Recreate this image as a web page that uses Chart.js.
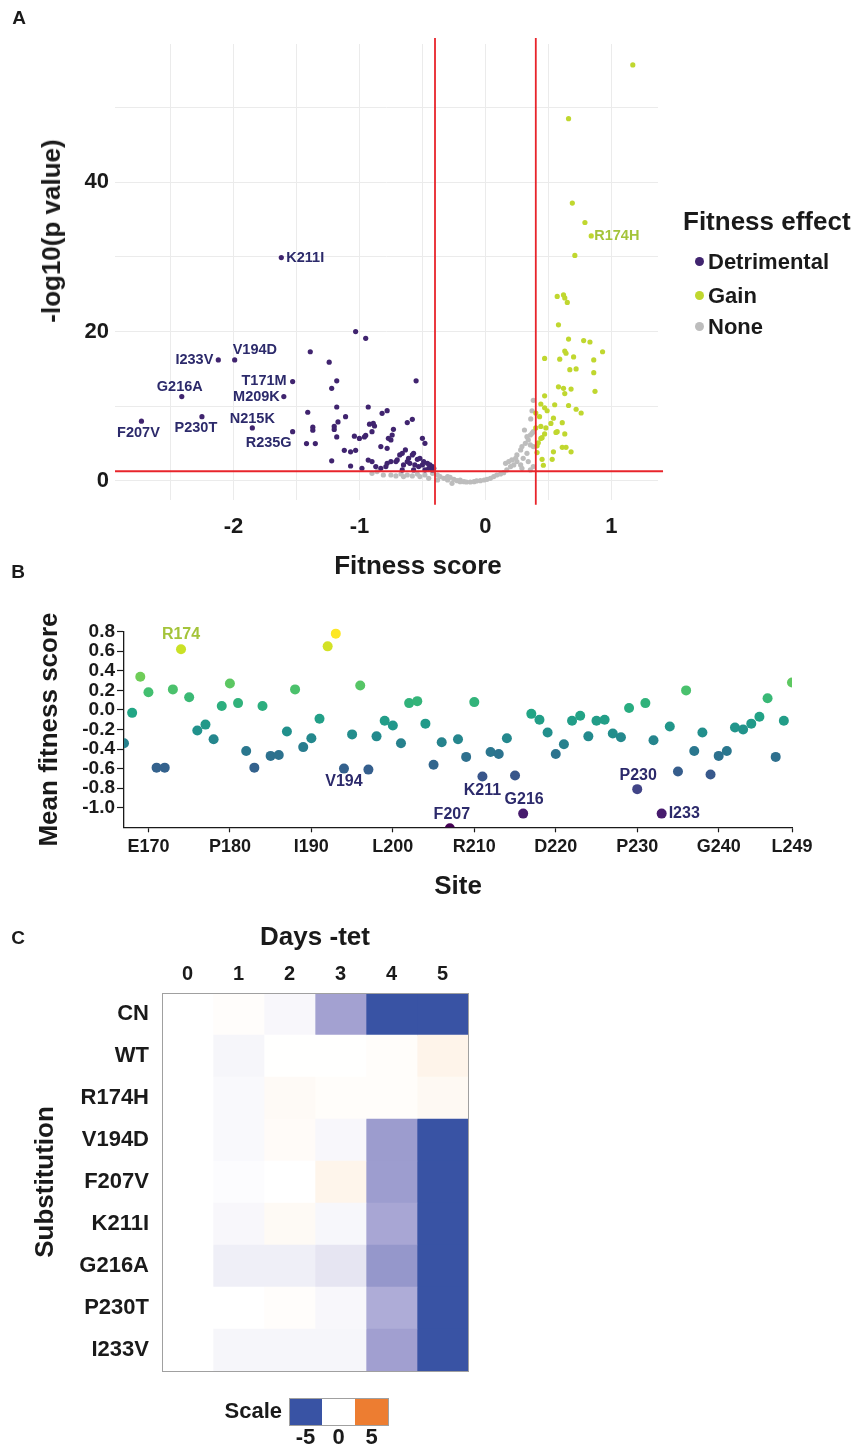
<!DOCTYPE html>
<html>
<head>
<meta charset="utf-8">
<script src="https://cdn.jsdelivr.net/npm/chart.js@4.4.1/dist/chart.umd.min.js"></script>
<style>
  body { margin: 0; background: #fff; }
  #page { position: relative; width: 857px; height: 1449px; overflow: hidden;
          font-family: 'Liberation Sans', Arial, sans-serif; color: #1a1a1a; }
  canvas { position: absolute; left: 0; }
  .txt { position: absolute; font-weight: bold; white-space: nowrap; line-height: 1;
         transform: translate(-50%, -50%); }
  .rot { transform: translate(-50%, -50%) rotate(-90deg); }
  .leg { position: absolute; font-weight: bold; white-space: nowrap; line-height: 1;
         transform: translate(0, -50%); }
  .dot { display: inline-block; width: 9px; height: 9px; border-radius: 50%;
         margin-right: 4px; vertical-align: middle; position: relative; top: -2px; }
</style>
</head>
<body>
<div id="page">
  <canvas id="chartA" width="857" height="590" style="top:0px"></canvas>
  <canvas id="chartB" width="857" height="320" style="top:590px"></canvas>
  <canvas id="chartC" width="857" height="539" style="top:910px"></canvas>

  <div class="txt" style="left:19px;top:17px;font-size:19px">A</div>
  <div class="txt" style="left:18px;top:571px;font-size:19px">B</div>
  <div class="txt" style="left:18px;top:937px;font-size:19px">C</div>

  <div class="txt rot" style="left:51px;top:231px;font-size:26px">-log10(p value)</div>
  <div class="txt" style="left:418px;top:565px;font-size:26px">Fitness score</div>
  <div id="legendA"></div>
</div>

<script>
// ---------- panel A: volcano plot (fitness score vs -log10 p) ----------
const detrimentalPts = [
  [-1.03, 20.0], [-0.95, 19.1], [-1.39, 17.3], [-1.24, 15.9], [-1.18, 13.4], [-1.22, 12.4], [-0.55, 13.4],
  [-1.41, 9.2], [-1.18, 9.9], [-0.93, 9.9], [-1.11, 8.6], [-1.17, 7.9], [-0.92, 7.6], [-1.37, 7.2],
  [-1.37, 6.8], [-1.20, 7.3], [-1.20, 6.9], [-1.18, 5.9], [-1.04, 6.0], [-1.00, 5.7], [-0.96, 5.9],
  [-0.95, 6.1], [-1.42, 5.0], [-1.35, 5.0], [-1.12, 4.1], [-1.07, 3.9], [-1.03, 4.1], [-1.22, 2.7],
  [-0.93, 2.8], [-1.07, 2.0], [-0.98, 1.7],
  [-0.82, 9.06], [-0.78, 9.41], [-0.89, 7.72], [-0.88, 7.36], [-0.90, 6.60], [-0.73, 6.91], [-0.77, 5.71],
  [-0.74, 6.15], [-0.75, 5.49], [-0.62, 7.81], [-0.58, 8.25], [-0.50, 5.71], [-0.48, 5.04], [-0.83, 4.6],
  [-0.78, 4.37], [-0.66, 3.70], [-0.68, 3.48], [-0.635, 4.15], [-0.61, 3.03], [-0.57, 3.70], [-0.58, 3.48],
  [-0.54, 2.9], [-0.52, 3.03], [-0.49, 2.59], [-0.46, 2.36], [-0.44, 2.14], [-0.42, 1.92], [-0.45, 1.69],
  [-0.41, 1.69], [-0.50, 2.14], [-0.53, 1.92], [-0.56, 2.14], [-0.60, 2.36], [-0.62, 2.59], [-0.65, 2.14],
  [-0.70, 2.81], [-0.71, 2.59], [-0.75, 2.59], [-0.78, 2.36], [-0.79, 1.92], [-0.83, 1.69], [-0.87, 1.92],
  [-0.66, 1.47], [-0.57, 1.47], [-0.48, 1.47], [-0.42, 1.47], [-0.90, 2.59]
];
const labeledDetrimental = [
  ['K211I', -1.62, 29.9], ['I233V', -2.12, 16.2], ['V194D', -1.99, 16.2], ['T171M', -1.53, 13.3],
  ['M209K', -1.60, 11.3], ['G216A', -2.41, 11.3], ['P230T', -2.25, 8.6], ['F207V', -2.73, 8.0],
  ['N215K', -1.85, 7.1], ['R235G', -1.53, 6.6]
];
const gainPts = [
  [1.17, 55.7], [0.66, 48.5], [0.69, 37.2], [0.79, 34.6], [0.71, 30.2], [0.57, 24.7], [0.62, 24.9],
  [0.63, 24.5], [0.65, 23.9], [0.58, 20.9], [0.66, 19.0], [0.78, 18.8], [0.83, 18.6], [0.93, 17.3],
  [0.63, 17.4], [0.64, 17.1], [0.70, 16.6], [0.47, 16.4], [0.59, 16.3], [0.86, 16.2], [0.67, 14.9],
  [0.72, 15.0], [0.86, 14.5], [0.58, 12.6], [0.62, 12.4], [0.68, 12.3], [0.63, 11.7], [0.87, 12.0],
  [0.47, 11.4], [0.44, 10.3], [0.55, 10.2], [0.66, 10.1], [0.47, 9.8], [0.49, 9.4], [0.72, 9.6],
  [0.76, 9.1], [0.40, 9.1], [0.43, 8.6], [0.54, 8.4], [0.52, 7.7], [0.61, 7.8], [0.48, 7.1],
  [0.44, 7.3], [0.40, 7.1], [0.57, 6.6], [0.56, 6.5], [0.63, 6.3], [0.47, 6.3], [0.44, 5.7],
  [0.45, 5.8], [0.42, 5.1], [0.41, 4.7], [0.61, 4.5], [0.64, 4.5], [0.54, 3.9], [0.68, 3.9],
  [0.41, 3.8], [0.45, 2.9], [0.53, 2.9], [0.46, 2.1]
];
const labeledGain = [['R174H', 0.84, 32.8]];
const nonePts = [
  [0.38, 10.8], [0.37, 9.4], [0.36, 8.3],
  [-0.75, 0.80], [-0.71, 0.67], [-0.67, 0.93], [-0.65, 0.58], [-0.62, 0.80], [-0.58, 0.67], [-0.54, 0.93],
  [-0.52, 0.58], [-0.48, 0.80], [-0.45, 0.35], [-0.42, 1.02], [-0.38, 0.80], [-0.36, 0.58], [-0.33, 0.35],
  [-0.30, 0.58], [-0.28, 0.49], [-0.25, 0.22], [-0.225, 0.04], [-0.20, -0.09], [-0.17, -0.09], [-0.15, -0.14],
  [-0.12, -0.14], [-0.09, -0.09], [-0.07, 0.0], [-0.04, 0.04], [-0.01, 0.13], [0.013, 0.22], [0.04, 0.35],
  [0.066, 0.58], [0.09, 0.80], [0.12, 0.93], [0.145, 1.11], [0.17, 1.47], [0.20, 1.92], [0.16, 2.36],
  [0.185, 2.59], [0.21, 2.81], [0.24, 3.03], [0.25, 2.59], [0.28, 2.14], [0.29, 1.69], [0.225, 2.14],
  [0.25, 3.48], [0.28, 4.15], [0.29, 4.6], [0.317, 5.04], [0.33, 5.93], [0.34, 5.49], [0.357, 6.15],
  [0.37, 6.38], [0.31, 6.82], [0.38, 6.6], [0.357, 4.82], [0.38, 4.6], [0.33, 3.70], [0.30, 3.03],
  [0.34, 2.59], [0.38, 1.92], [0.357, 1.47], [-0.90, 1.02], [-0.86, 1.25], [-0.81, 0.80], [-0.265, -0.32],
  [-0.30, 0.13], [-0.20, 0.13], [-0.38, 0.13]
];
const fitnessCutoffs = [-0.4, 0.4];
const pCutoff = 1.3;            // -log10(0.05)

// ---------- panel B: mean fitness score per site ----------
const firstSite = 167;
const meanScore = [
  -0.34, -0.03, 0.34, 0.18, -0.59, -0.59, 0.21, 0.62, 0.13, -0.21,
  -0.15, -0.30, 0.04, 0.27, 0.07, -0.42, -0.59, 0.04, -0.47, -0.46,
  -0.22, 0.21, -0.38, -0.29, -0.09, 0.65, 0.78, -0.60, -0.25, 0.25,
  -0.61, -0.27, -0.11, -0.16, -0.34, 0.07, 0.09, -0.14, -0.56, -0.33,
  -1.21, -0.30, -0.48, 0.08, -0.68, -0.43, -0.45, -0.29, -0.67, -1.06,
  -0.04, -0.10, -0.23, -0.45, -0.35, -0.11, -0.06, -0.27, -0.11, -0.10,
  -0.24, -0.28, 0.02, -0.81, 0.07, -0.31, -1.06, -0.17, -0.63, 0.20,
  -0.42, -0.23, -0.66, -0.47, -0.42, -0.18, -0.20, -0.14, -0.07, 0.12,
  -0.48, -0.11, 0.28
];
const siteTicks = [170, 180, 190, 200, 210, 220, 230, 240, 249];
const siteTickNames = ['E170', 'P180', 'I190', 'L200', 'R210', 'D220', 'P230', 'G240', 'L249'];
const scoreTicks = [-1.0, -0.8, -0.6, -0.4, -0.2, 0.0, 0.2, 0.4, 0.6, 0.8];
const highlightedSites = ['R174', 'V194', 'F207', 'K211', 'G216', 'P230', 'I233'];

// ---------- panel C: heatmap, days without tetracycline ----------
const days = ['0', '1', '2', '3', '4', '5'];
const substitutions = ['CN', 'WT', 'R174H', 'V194D', 'F207V', 'K211I', 'G216A', 'P230T', 'I233V'];
const heatCN    = [0, 0.08, -0.2, -2.5, -5, -5];
const heatWT    = [0, -0.25, 0.02, 0.02, 0.1, 0.45];
const heatR174H = [0, -0.15, 0.2, 0.1, 0.1, 0.25];
const heatV194D = [0, -0.15, 0.15, -0.2, -2.67, -5];
const heatF207V = [0, -0.07, 0, 0.42, -2.63, -5];
const heatK211I = [0, -0.2, 0.22, -0.22, -2.36, -5];
const heatG216A = [0, -0.43, -0.43, -0.68, -2.83, -5];
const heatP230T = [0, 0, 0.08, -0.2, -2.2, -5];
const heatI233V = [0, -0.25, -0.25, -0.25, -2.55, -5];
const heatRows = [heatCN, heatWT, heatR174H, heatV194D, heatF207V, heatK211I, heatG216A, heatP230T, heatI233V];
const scaleTicks = [-5, 0, 5];

// ---------- styles ----------
const FONT = "'Liberation Sans', Arial, sans-serif";
const INK = '#1a1a1a';
const GRID = '#ebebeb';
const RED = '#e8242b';
const PURPLE = '#40246f';
const LIME = '#c0d72f';
const GREY = '#bdbdbd';
const NAVY = '#2c2a6b';
const LABEL_LIME = '#a4c43a';

const VIRIDIS = ['#440154', '#482475', '#414487', '#355f8d', '#2a788e', '#21918c',
                 '#22a884', '#44bf70', '#7ad151', '#bddf26', '#fde725'];
const HEAT_STOPS = [[-5, '#3953a4'], [-2.5, '#a3a1d1'], [0, '#ffffff'], [2.5, '#f8c48a'], [5, '#ed7d31']];

function hexRgb(h) { return [1, 3, 5].map(i => parseInt(h.substr(i, 2), 16)); }
function mix(a, b, t) {
  const A = hexRgb(a), B = hexRgb(b);
  return 'rgb(' + A.map((v, i) => Math.round(v + (B[i] - v) * t)).join(',') + ')';
}
function viridis(t) {
  t = Math.max(0, Math.min(1, t)) * (VIRIDIS.length - 1);
  const i = Math.min(Math.floor(t), VIRIDIS.length - 2);
  return mix(VIRIDIS[i], VIRIDIS[i + 1], t - i);
}
function heatColor(v) {
  for (let i = 0; i < HEAT_STOPS.length - 1; i++) {
    const [v0, c0] = HEAT_STOPS[i], [v1, c1] = HEAT_STOPS[i + 1];
    if (v <= v1) return mix(c0, c1, Math.max(0, (v - v0) / (v1 - v0)));
  }
  return HEAT_STOPS[HEAT_STOPS.length - 1][1];
}
const toXY = pts => pts.map(p => ({x: p[0], y: p[1]}));
const namedXY = pts => pts.map(p => ({x: p[1], y: p[2]}));
const bold = size => ({family: FONT, size: size, weight: 'bold'});

// draws text next to given data points, offsets are [dx, dy, align]
function textLabels(id, items, offsets, font) {
  return {
    id: id,
    afterDatasetsDraw(chart) {
      const {ctx, scales: {x, y}} = chart;
      ctx.save();
      ctx.font = font;
      ctx.textBaseline = 'middle';
      items.forEach(it => {
        const off = offsets[it.name];
        ctx.fillStyle = it.color;
        ctx.textAlign = off[2];
        ctx.fillText(it.name, x.getPixelForValue(it.x) + off[0], y.getPixelForValue(it.y) + off[1]);
      });
      ctx.restore();
    }
  };
}

Chart.defaults.animation = false;
Chart.defaults.font.family = FONT;
Chart.defaults.color = INK;
Chart.defaults.plugins.legend.display = false;
Chart.defaults.plugins.tooltip.enabled = false;

// ---------- chart A ----------
const xMinA = -2.94, xMaxA = 1.37, yMinA = -2.55, yMaxA = 58.5;
const labelOffsetsA = {
  K211I: [5, 0, 'left'], I233V: [-5, 0, 'right'], V194D: [-2, -10, 'left'], T171M: [-6, -1, 'right'],
  M209K: [-4, 0, 'right'], G216A: [-2, -10, 'center'], P230T: [-6, 11, 'center'], F207V: [-3, 12, 'center'],
  N215K: [0, -9, 'center'], R235G: [-1, 11, 'right'], R174H: [3, 0, 'left']
};
const labelItemsA = labeledDetrimental.map(p => ({name: p[0], x: p[1], y: p[2], color: NAVY}))
  .concat(labeledGain.map(p => ({name: p[0], x: p[1], y: p[2], color: LABEL_LIME})));

const effectSets = [
  {label: 'Detrimental', data: toXY(detrimentalPts).concat(namedXY(labeledDetrimental)), color: PURPLE, order: 2},
  {label: 'Gain', data: toXY(gainPts).concat(namedXY(labeledGain)), color: LIME, order: 3},
  {label: 'None', data: toXY(nonePts), color: GREY, order: 4}
];
const cutoffLines = fitnessCutoffs.map(c => [{x: c, y: yMinA - 0.65}, {x: c, y: yMaxA + 0.8}])
  .concat([[{x: xMinA, y: pCutoff}, {x: xMaxA + 0.04, y: pCutoff}]]);

const chartA = new Chart(document.getElementById('chartA'), {
  type: 'scatter',
  data: {
    datasets: effectSets.map(s => ({
      label: s.label, data: s.data, order: s.order,
      backgroundColor: s.color, pointRadius: 2.6, borderWidth: 0
    })).concat(cutoffLines.map(line => ({
      type: 'line', data: line, order: 0, borderColor: RED, borderWidth: 1.8,
      pointRadius: 0, clip: false
    })))
  },
  options: {
    responsive: false,
    layout: {padding: {top: 44, right: 199, bottom: 0, left: 0}},
    scales: {
      x: {
        type: 'linear', min: xMinA, max: xMaxA,
        afterFit: s => { s.height = 90; },
        border: {display: false},
        grid: {color: GRID, drawTicks: false},
        ticks: {
          stepSize: 0.5, includeBounds: false, autoSkip: false, maxRotation: 0, padding: 14,
          color: INK, font: bold(22),
          callback: v => Math.abs(v - Math.round(v)) < 1e-6 ? String(Math.round(v)) : ''
        }
      },
      y: {
        type: 'linear', min: yMinA, max: yMaxA,
        afterFit: s => { s.width = 115; },
        border: {display: false},
        grid: {color: GRID, drawTicks: false},
        ticks: {
          stepSize: 10, includeBounds: false, autoSkip: false, padding: 6,
          color: INK, font: bold(22),
          callback: v => (Math.round(v) % 20 === 0 ? String(Math.round(v)) : '')
        }
      }
    }
  },
  plugins: [textLabels('labelsA', labelItemsA, labelOffsetsA, 'bold 14.5px ' + FONT)]
});

// legend for A, built from the chart's own datasets
const legendA = document.getElementById('legendA');
legendA.innerHTML = '<div class="leg" style="left:683px;top:221px;font-size:26px">Fitness effect</div>' +
  chartA.data.datasets.filter(d => d.label).map((d, i) =>
    '<div class="leg" style="left:695px;top:' + [262, 296, 327][i] + 'px;font-size:22px">' +
    '<span class="dot" style="background:' + d.backgroundColor + '"></span>' + d.label + '</div>').join('');

// ---------- chart B ----------
const sites = meanScore.map((_, i) => firstSite + i);
const scoreMin = Math.min(...meanScore), scoreMax = Math.max(...meanScore);
const labelOffsetsB = {
  R174: [0, -15, 'center'], V194: [0, 13, 'center'], F207: [2, -14, 'center'], K211: [0, 14, 'center'],
  G216: [1, -14, 'center'], P230: [1, -14, 'center'], I233: [7, 0, 'left']
};
const labelItemsB = highlightedSites.map(name => {
  const site = parseInt(name.slice(1), 10);
  const v = meanScore[site - firstSite];
  return {name: name, x: site, y: v, color: v > 0 ? LABEL_LIME : NAVY};
});

new Chart(document.getElementById('chartB'), {
  type: 'scatter',
  data: {
    datasets: [{
      data: sites.map((s, i) => ({x: s, y: meanScore[i]})),
      backgroundColor: meanScore.map(v => viridis((v - scoreMin) / (scoreMax - scoreMin))),
      pointRadius: 5, borderWidth: 0,
      clip: {left: 0, top: 8, right: 0, bottom: 0}
    }]
  },
  options: {
    responsive: false,
    layout: {padding: {top: 41.7, right: 65, bottom: 0, left: 0}},
    scales: {
      x: {
        type: 'linear', min: firstSite, max: siteTicks[siteTicks.length - 1],
        afterFit: s => { s.height = 82.7; },
        afterBuildTicks: s => { s.ticks = siteTicks.map(v => ({value: v})); },
        border: {color: INK, width: 1.3},
        grid: {drawOnChartArea: false, color: INK, tickLength: 5, tickWidth: 1.2},
        ticks: {
          autoSkip: false, maxRotation: 0, padding: 4, color: INK, font: bold(18),
          callback: v => siteTickNames[siteTicks.indexOf(v)]
        },
        title: {display: true, text: 'Site', color: INK, font: bold(26), padding: {top: 0, bottom: 8}}
      },
      y: {
        type: 'linear', min: -1.2, max: 0.8,
        afterFit: s => { s.width = 124; },
        afterBuildTicks: s => { s.ticks = scoreTicks.map(v => ({value: v})); },
        border: {color: INK, width: 1.3},
        grid: {drawOnChartArea: false, color: INK, tickLength: 7, tickWidth: 1.2},
        ticks: {autoSkip: false, padding: 2, color: INK, font: bold(19), callback: v => v.toFixed(1)},
        title: {display: true, text: 'Mean fitness score', color: INK, font: bold(26), padding: {top: 34, bottom: 0}}
      }
    }
  },
  plugins: [textLabels('labelsB', labelItemsB, labelOffsetsB, 'bold 16px ' + FONT)]
});

// ---------- chart C ----------
const heatFrame = {
  id: 'heatFrame',
  afterDatasetsDraw(chart) {
    const {ctx, chartArea: a} = chart;
    ctx.save();
    ctx.strokeStyle = '#a0a0a0';
    ctx.lineWidth = 1;
    ctx.strokeRect(Math.round(a.left) + 0.5, Math.round(a.top) + 0.5,
                   Math.round(a.right - a.left), Math.round(a.bottom - a.top));
    ctx.restore();
  }
};
const scaleKey = {
  id: 'scaleKey',
  afterDraw(chart) {
    const ctx = chart.ctx;
    const left = 289, top = 488, w = 33, h = 27;
    ctx.save();
    scaleTicks.forEach((v, i) => {
      ctx.fillStyle = heatColor(v);
      ctx.fillRect(left + i * w, top, w, h);
    });
    ctx.strokeStyle = '#a0a0a0';
    ctx.lineWidth = 1;
    ctx.strokeRect(left + 0.5, top + 0.5, w * scaleTicks.length, h);
    ctx.fillStyle = INK;
    ctx.font = 'bold 22px ' + FONT;
    ctx.textBaseline = 'middle';
    ctx.textAlign = 'right';
    ctx.fillText('Scale', left - 7, top + h / 2);
    ctx.textAlign = 'center';
    scaleTicks.forEach((v, i) => ctx.fillText(String(v), left + w * i + w / 2, top + h + 13));
    ctx.restore();
  }
};

new Chart(document.getElementById('chartC'), {
  type: 'bar',
  data: {
    labels: substitutions,
    datasets: days.map((d, j) => ({
      label: d,
      data: substitutions.map(() => 1),
      backgroundColor: heatRows.map(row => heatColor(row[j])),
      borderWidth: 0, barPercentage: 1, categoryPercentage: 1
    }))
  },
  options: {
    responsive: false,
    indexAxis: 'y',
    layout: {padding: {top: 0, right: 389, bottom: 78, left: 0}},
    scales: {
      x: {
        stacked: true, position: 'top', min: 0, max: days.length,
        afterFit: s => { s.height = 83; },
        afterBuildTicks: s => { s.ticks = days.map((d, i) => ({value: i + 0.5})); },
        border: {display: false},
        grid: {display: false, drawTicks: false},
        ticks: {autoSkip: false, maxRotation: 0, padding: 7, color: INK, font: bold(20),
                callback: (v, i) => days[i]},
        title: {display: true, text: 'Days -tet', color: INK, font: bold(26), padding: {top: 12, bottom: 0}}
      },
      y: {
        stacked: true,
        afterFit: s => { s.width = 162; },
        border: {display: false},
        grid: {display: false, drawTicks: false},
        ticks: {padding: 13, color: INK, font: bold(22)},
        title: {display: true, text: 'Substitution', color: INK, font: bold(26), padding: {top: 30, bottom: 0}}
      }
    }
  },
  plugins: [heatFrame, scaleKey]
});
</script>
</body>
</html>
